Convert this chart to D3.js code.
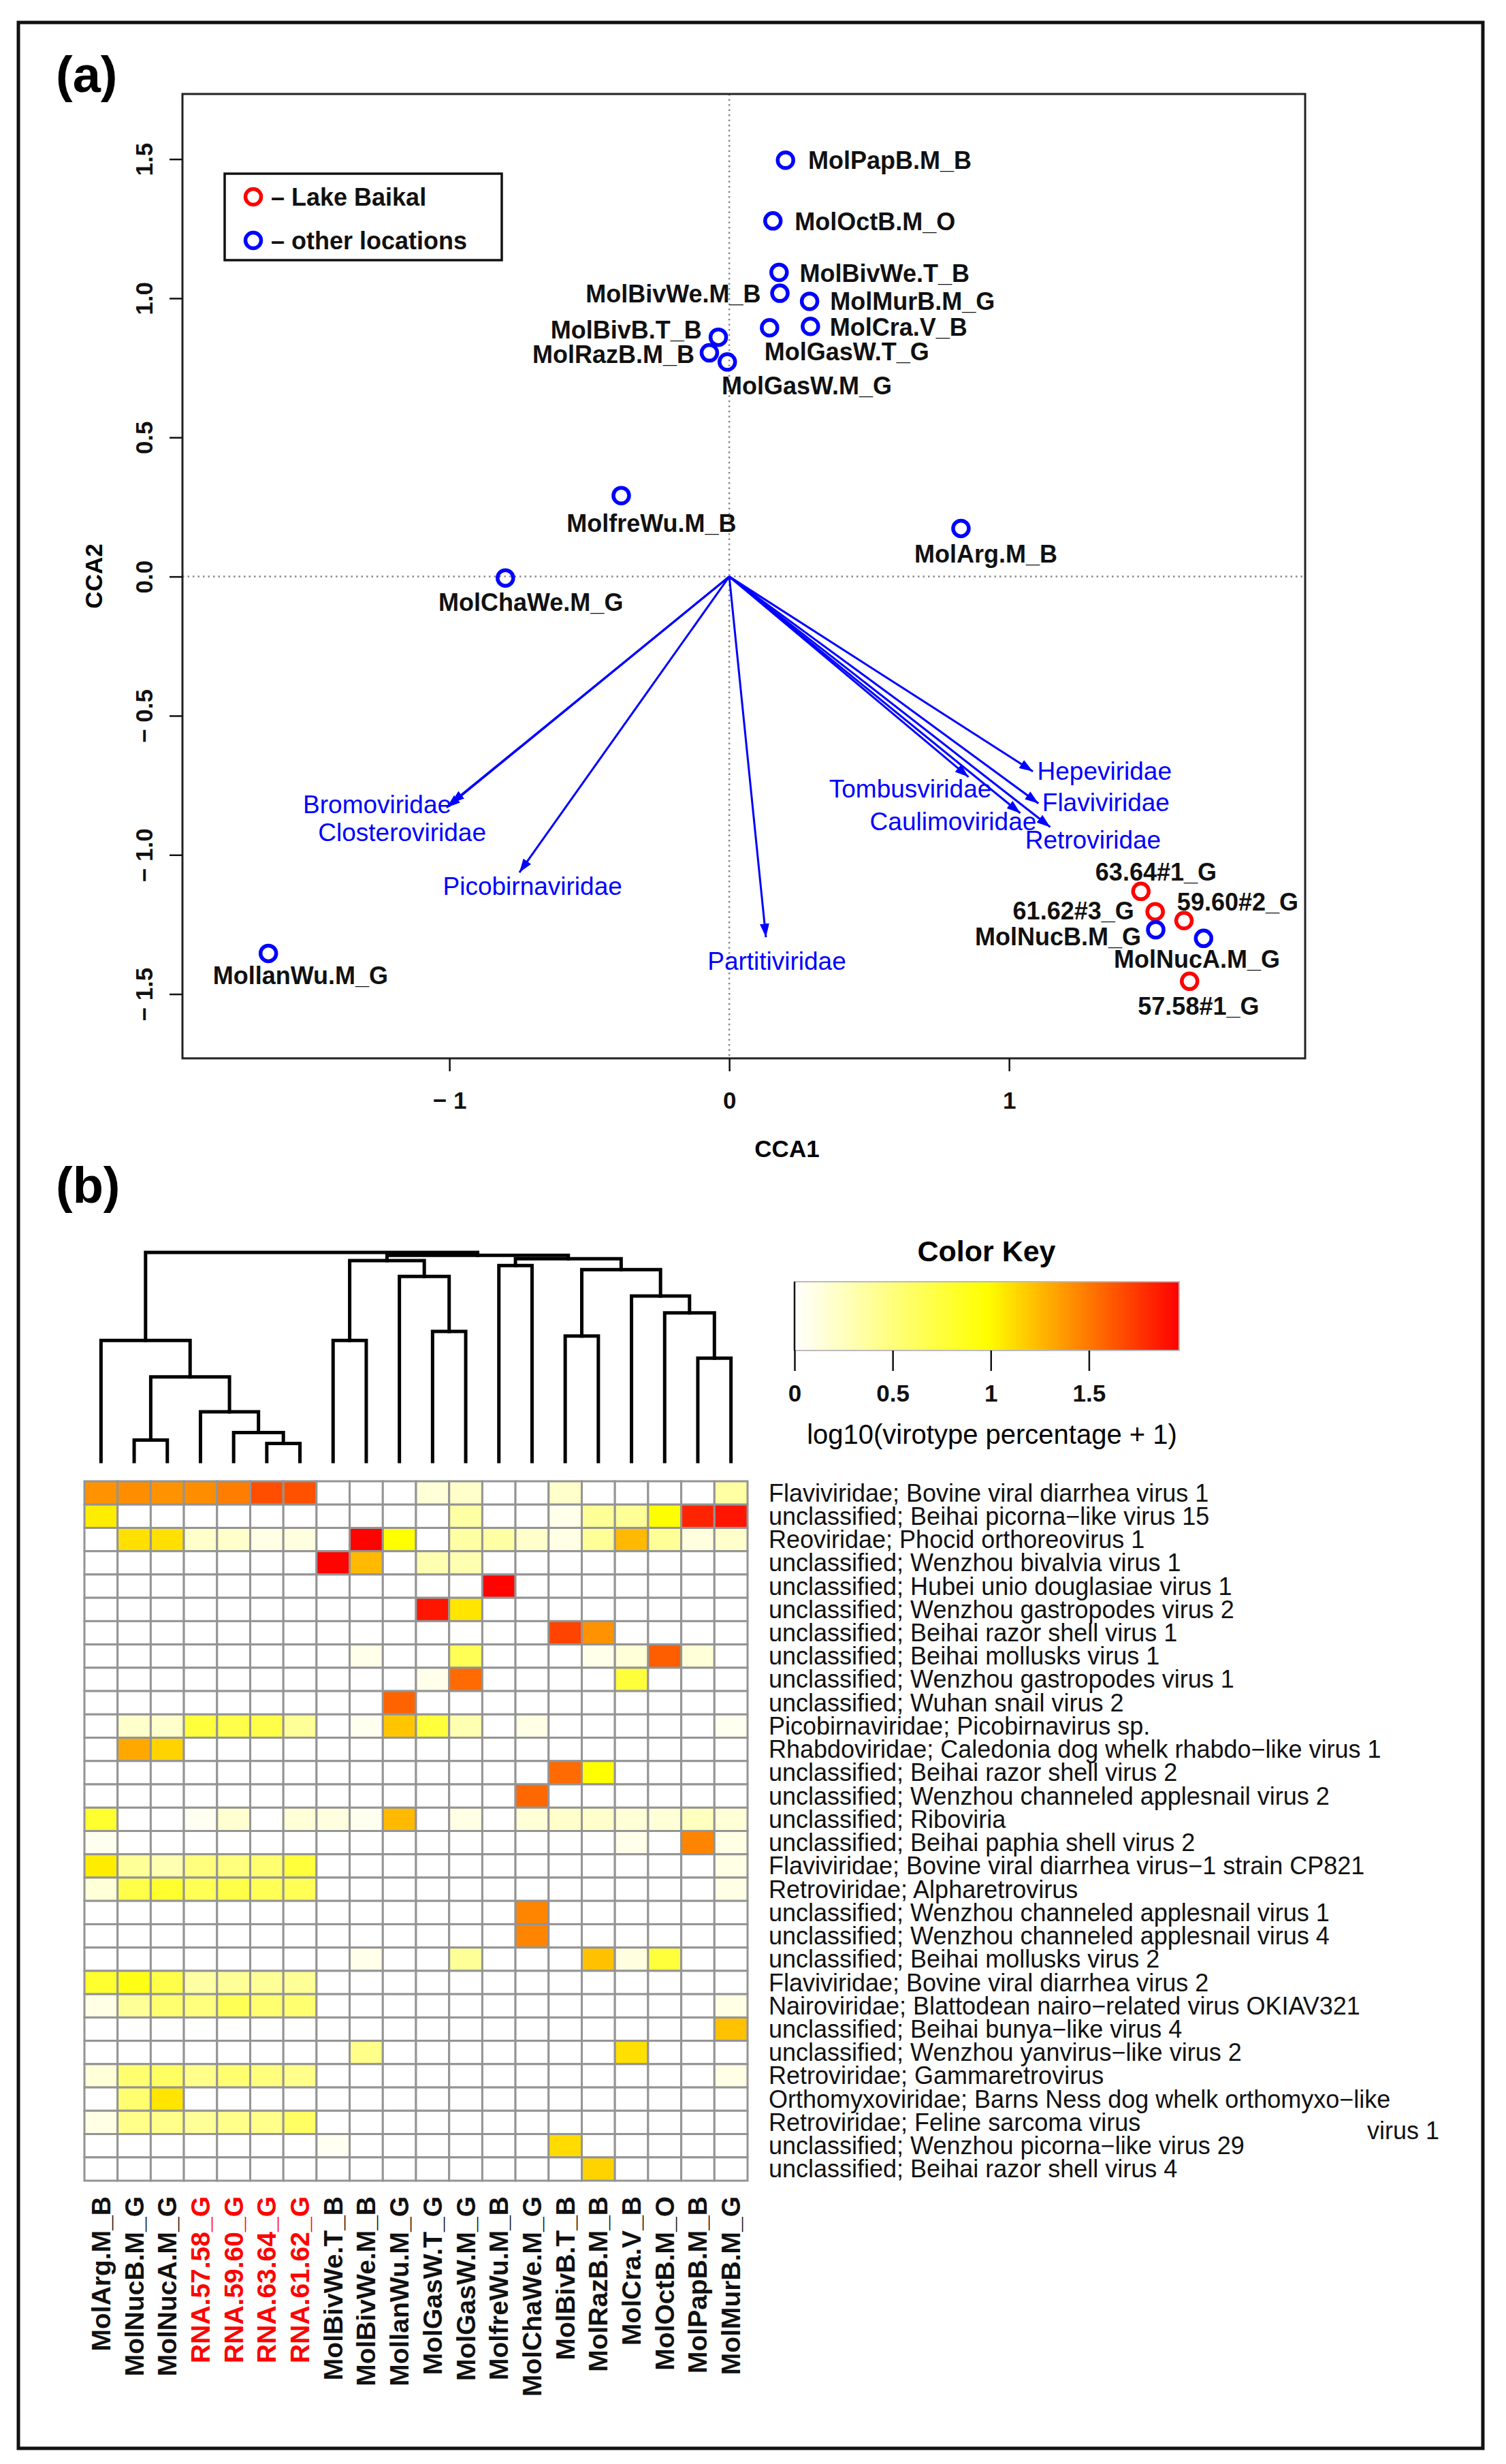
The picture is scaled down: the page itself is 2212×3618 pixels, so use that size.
<!DOCTYPE html>
<html><head><meta charset="utf-8">
<script src="https://cdn.jsdelivr.net/npm/d3@7"></script>
<style>
body{margin:0;background:#fff}
svg{display:block}
text{font-family:"Liberation Sans",Arial,Helvetica,sans-serif}
</style>
</head><body>
<svg id="chart" width="2212" height="3618"></svg>
<script>
// ---------------- DATA: panel (a) CCA biplot ----------------
const siteNames = ["MolPapB.M_B","MolOctB.M_O","MolBivWe.T_B","MolBivWe.M_B","MolMurB.M_G","MolCra.V_B","MolGasW.T_G","MolBivB.T_B","MolRazB.M_B","MolGasW.M_G","MolArg.M_B","MolfreWu.M_B","MolChaWe.M_G","MollanWu.M_G","63.64#1_G","61.62#3_G","59.60#2_G","MolNucB.M_G","MolNucA.M_G","57.58#1_G"];
const siteCCA1 = [0.201,0.156,0.178,0.181,0.287,0.290,0.144,-0.039,-0.071,-0.007,0.828,-0.386,-0.800,-1.647,1.471,1.522,1.625,1.524,1.695,1.645];
const siteCCA2 = [1.496,1.278,1.093,1.018,0.989,0.899,0.894,0.860,0.804,0.771,0.173,0.291,-0.005,-1.354,-1.131,-1.204,-1.236,-1.269,-1.300,-1.454];
const siteGroup = ["other","other","other","other","other","other","other","other","other","other","other","other","other","other","Baikal","Baikal","Baikal","other","other","Baikal"];
// label anchor coordinates (CCA units, as placed in the original biplot)
const siteLabCCA1 = [0.574,0.521,0.555,-0.200,0.655,0.605,0.420,-0.368,-0.414,0.277,0.917,-0.278,-0.709,-1.532,1.525,1.230,1.817,1.175,1.671,1.677];
const siteLabCCA2 = [1.496,1.274,1.089,1.016,0.988,0.896,0.807,0.885,0.798,0.685,0.082,0.190,-0.093,-1.434,-1.062,-1.201,-1.170,-1.294,-1.376,-1.545];

const envNames = ["Bromoviridae","Closteroviridae","Picobirnaviridae","Partitiviridae","Tombusviridae","Caulimoviridae","Hepeviridae","Flaviviridae","Retroviridae"];
const envCCA1 = [-1.010,-0.995,-0.750,0.131,0.855,1.040,1.085,1.105,1.147];
const envCCA2 = [-0.830,-0.815,-1.063,-1.296,-0.720,-0.850,-0.700,-0.815,-0.900];
const envLabCCA1 = [-1.258,-1.169,-0.703,0.170,0.647,0.800,1.341,1.346,1.300];
const envLabCCA2 = [-0.819,-0.919,-1.114,-1.383,-0.762,-0.880,-0.700,-0.812,-0.946];

const legendLabels = ["– Lake Baikal","– other locations"];
const legendGroups = ["Baikal","other"];
const xTicksA = [-1,0,1];
const yTicksA = [-1.5,-1.0,-0.5,0.0,0.5,1.0,1.5];

// ---------------- DATA: panel (b) heatmap ----------------
const colNames = ["MolArg.M_B","MolNucB.M_G","MolNucA.M_G","RNA.57.58_G","RNA.59.60_G","RNA.63.64_G","RNA.61.62_G","MolBivWe.T_B","MolBivWe.M_B","MollanWu.M_G","MolGasW.T_G","MolGasW.M_G","MolfreWu.M_B","MolChaWe.M_G","MolBivB.T_B","MolRazB.M_B","MolCra.V_B","MolOctB.M_O","MolPapB.M_B","MolMurB.M_G"];
const colIsBaikal = [0,0,0,1,1,1,1,0,0,0,0,0,0,0,0,0,0,0,0,0];
const rowNames = [
 "Flaviviridae; Bovine viral diarrhea virus 1",
 "unclassified; Beihai picorna−like virus 15",
 "Reoviridae; Phocid orthoreovirus 1",
 "unclassified; Wenzhou bivalvia virus 1",
 "unclassified; Hubei unio douglasiae virus 1",
 "unclassified; Wenzhou gastropodes virus 2",
 "unclassified; Beihai razor shell virus 1",
 "unclassified; Beihai mollusks virus 1",
 "unclassified; Wenzhou gastropodes virus 1",
 "unclassified; Wuhan snail virus 2",
 "Picobirnaviridae; Picobirnavirus sp.",
 "Rhabdoviridae; Caledonia dog whelk rhabdo−like virus 1",
 "unclassified; Beihai razor shell virus 2",
 "unclassified; Wenzhou channeled applesnail virus 2",
 "unclassified; Riboviria",
 "unclassified; Beihai paphia shell virus 2",
 "Flaviviridae; Bovine viral diarrhea virus−1 strain CP821",
 "Retroviridae; Alpharetrovirus",
 "unclassified; Wenzhou channeled applesnail virus 1",
 "unclassified; Wenzhou channeled applesnail virus 4",
 "unclassified; Beihai mollusks virus 2",
 "Flaviviridae; Bovine viral diarrhea virus 2",
 "Nairoviridae; Blattodean nairo−related virus OKIAV321",
 "unclassified; Beihai bunya−like virus 4",
 "unclassified; Wenzhou yanvirus−like virus 2",
 "Retroviridae; Gammaretrovirus",
 "Orthomyxoviridae; Barns Ness dog whelk orthomyxo−like\nvirus 1",
 "Retroviridae; Feline sarcoma virus",
 "unclassified; Wenzhou picorna−like virus 29",
 "unclassified; Beihai razor shell virus 4"
];
// log10(virotype percentage + 1), rows x columns (column order as colNames)
const heatValues = [
 [1.40,1.42,1.40,1.42,1.48,1.66,1.65,0,0,0,0.15,0.20,0,0,0.20,0,0,0,0,0.35],
 [1.05,0,0,0,0,0,0,0,0,0,0,0.35,0,0,0.08,0.40,0.40,0.98,1.82,1.88],
 [0,1.10,1.10,0.20,0.20,0.10,0.12,0,1.95,0.98,0,0.35,0.35,0.20,0.10,0.40,1.25,0.40,0.12,0.20],
 [0,0,0,0,0,0,0,1.95,1.25,0,0.30,0.30,0,0,0,0,0,0,0,0],
 [0,0,0,0,0,0,0,0,0,0,0,0,1.95,0,0,0,0,0,0,0],
 [0,0,0,0,0,0,0,0,0,0,1.88,1.08,0,0,0,0,0,0,0,0],
 [0,0,0,0,0,0,0,0,0,0,0,0,0,0,1.70,1.40,0,0,0,0],
 [0,0,0,0,0,0,0,0,0.08,0,0,0.65,0,0,0,0.08,0.15,1.60,0.15,0],
 [0,0,0,0,0,0,0,0,0,0,0.08,1.55,0,0,0,0,0.75,0,0,0],
 [0,0,0,0,0,0,0,0,0,1.58,0,0,0,0,0,0,0,0,0,0],
 [0,0.20,0.20,0.75,0.70,0.70,0.40,0,0.06,1.20,0.75,0.30,0,0.10,0,0,0,0,0,0.06],
 [0,1.31,1.15,0,0,0,0,0,0,0,0,0,0,0,0,0,0,0,0,0],
 [0,0,0,0,0,0,0,0,0,0,0,0,0,0,1.55,0.98,0,0,0,0],
 [0,0,0,0,0,0,0,0,0,0,0,0,0,1.56,0,0,0,0,0,0],
 [0.80,0,0,0.05,0.18,0,0.15,0.12,0.06,1.25,0,0.10,0,0.15,0.20,0.20,0.15,0.15,0.25,0.15],
 [0.06,0,0,0,0,0,0,0,0,0,0,0,0,0,0,0,0.08,0,1.45,0.10],
 [1.05,0.40,0.30,0.50,0.50,0.55,0.75,0,0,0,0,0,0,0,0,0,0,0,0,0.10],
 [0.15,0.70,0.80,0.65,0.70,0.65,0.65,0,0,0,0,0,0,0,0,0,0,0,0,0.10],
 [0,0,0,0,0,0,0,0,0,0,0,0,0,1.45,0,0,0,0,0,0],
 [0,0,0,0,0,0,0,0,0,0,0,0,0,1.45,0,0,0,0,0,0],
 [0,0,0,0,0,0,0,0,0.08,0,0,0.40,0,0,0,1.22,0.12,0.75,0,0],
 [0.80,0.90,0.70,0.35,0.40,0.40,0.40,0,0,0,0,0,0,0,0,0,0,0,0,0],
 [0.10,0.40,0.55,0.50,0.65,0.55,0.55,0,0,0,0,0,0,0,0,0,0,0,0,0.10],
 [0,0,0,0,0,0,0,0,0,0,0,0,0,0,0,0,0,0,0,1.22],
 [0,0,0,0,0,0,0,0,0.45,0,0,0,0,0,0,0,1.10,0,0,0],
 [0.15,0.55,0.60,0.45,0.55,0.50,0.45,0,0,0,0,0,0,0,0,0,0,0,0,0.10],
 [0,0.55,1.08,0,0,0,0,0,0,0,0,0,0,0,0,0,0,0,0,0],
 [0.10,0.45,0.45,0.40,0.45,0.45,0.60,0,0,0,0,0,0,0,0,0,0,0,0,0],
 [0,0,0,0,0,0,0,0.05,0,0,0,0,0,0,1.12,0,0,0,0,0],
 [0,0,0,0,0,0,0,0,0,0,0,0,0,0,0,1.15,0,0,0,0]
];
const keyTicks = [0,0.5,1,1.5];
const keyMax = 1.96;
const keyColors = ["#ffffff","#ffff00","#ff0000"];
// column dendrogram: merge heights (arbitrary distance units), leaves = column indices
const L = i => ({leaf:i, h:0});
const dendroTree = {h:926, c:[
  {h:536, c:[L(0), {h:375, c:[{h:95, c:[L(1),L(2)]}, {h:220, c:[L(3), {h:128, c:[L(4), {h:80, c:[L(5),L(6)]}]}]}]}]},
  {h:913, c:[
    {h:890, c:[{h:536, c:[L(7),L(8)]}, {h:820, c:[L(9), {h:576, c:[L(10),L(11)]}]}]},
    {h:898, c:[{h:868, c:[L(12),L(13)]}, {h:850, c:[{h:556, c:[L(14),L(15)]}, {h:733, c:[L(16), {h:658, c:[L(17), {h:458, c:[L(18),L(19)]}]}]}]}]}
  ]}
]};

// ---------------- DRAWING ----------------
const svg = d3.select("#chart");
const FONT = '"Liberation Sans",Arial,sans-serif';
svg.append("rect").attr("width",2212).attr("height",3618).attr("fill","#fff");
// outer frame
svg.append("rect").attr("x",27).attr("y",33).attr("width",2151).attr("height",3562)
  .attr("fill","none").attr("stroke","#111").attr("stroke-width",5);

// panel labels
svg.append("text").attr("x",82).attr("y",135).attr("font-size",74).attr("font-weight","bold").text("(a)");
svg.append("text").attr("x",82).attr("y",1766).attr("font-size",74).attr("font-weight","bold").text("(b)");

// ---- panel (a)
const PA = {l:268, r:1917, t:138, b:1554};
const x = d3.scaleLinear().domain([-1.954, 2.058]).range([PA.l, PA.r]);
const y = d3.scaleLinear().domain([-1.731, 1.734]).range([PA.b, PA.t]);
const ga = svg.append("g");

// zero lines
ga.append("line").attr("x1",x(0)).attr("x2",x(0)).attr("y1",PA.t).attr("y2",PA.b)
  .attr("stroke","#888").attr("stroke-width",2.5).attr("stroke-dasharray","2.5,5");
ga.append("line").attr("x1",PA.l).attr("x2",PA.r).attr("y1",y(0)).attr("y2",y(0))
  .attr("stroke","#888").attr("stroke-width",2.5).attr("stroke-dasharray","2.5,5");

// box
ga.append("rect").attr("x",PA.l).attr("y",PA.t).attr("width",PA.r-PA.l).attr("height",PA.b-PA.t)
  .attr("fill","none").attr("stroke","#222").attr("stroke-width",3);

const fmt = d => d < 0 ? "− " + Math.abs(d).toString() : d.toString();
// axes
const yAxis = d3.axisLeft(y).tickValues(yTicksA).tickSize(19).tickPadding(0)
  .tickFormat(d => d < 0 ? "− " + Math.abs(d).toFixed(1) : d.toFixed(1));
const gy = ga.append("g").attr("transform",`translate(${PA.l},0)`).call(yAxis);
gy.select(".domain").remove();
gy.selectAll(".tick line").attr("stroke","#111").attr("stroke-width",2.5);
gy.selectAll(".tick text").attr("x",null).attr("dy",null)
  .attr("text-anchor","middle").attr("dominant-baseline","central")
  .attr("transform","translate(-57,0) rotate(-90)")
  .attr("font-size",35).attr("font-weight","bold").attr("fill","#111").attr("font-family",FONT);

const xAxis = d3.axisBottom(x).tickValues(xTicksA).tickSize(19).tickPadding(0).tickFormat(fmt);
const gx = ga.append("g").attr("transform",`translate(0,${PA.b})`).call(xAxis);
gx.select(".domain").remove();
gx.selectAll(".tick line").attr("stroke","#111").attr("stroke-width",2.5);
gx.selectAll(".tick text").attr("y",61).attr("dy",null).attr("dominant-baseline","central")
  .attr("font-size",35).attr("font-weight","bold").attr("fill","#111").attr("font-family",FONT);

ga.append("text").attr("x",1156).attr("y",1686).attr("text-anchor","middle").attr("dominant-baseline","central")
  .attr("font-size",35).attr("font-weight","bold").text("CCA1");
ga.append("text").attr("transform",`translate(137,${(PA.t+PA.b)/2}) rotate(-90)`)
  .attr("text-anchor","middle").attr("dominant-baseline","central")
  .attr("font-size",35).attr("font-weight","bold").text("CCA2");

// arrows
const defs = svg.append("defs");
defs.append("marker").attr("id","ah").attr("viewBox","0 0 20 14").attr("refX",20).attr("refY",7)
  .attr("markerWidth",20).attr("markerHeight",14).attr("markerUnits","userSpaceOnUse").attr("orient","auto")
  .append("path").attr("d","M0,0 L20,7 L0,14 Z").attr("fill","#0000ff");
ga.selectAll(".env").data(envNames).join("line").attr("class","env")
  .attr("x1",x(0)).attr("y1",y(0))
  .attr("x2",(d,i)=>x(envCCA1[i])).attr("y2",(d,i)=>y(envCCA2[i]))
  .attr("stroke","#0000ff").attr("stroke-width",3).attr("marker-end","url(#ah)");
ga.selectAll(".envlab").data(envNames).join("text").attr("class","envlab")
  .attr("x",(d,i)=>x(envLabCCA1[i])).attr("y",(d,i)=>y(envLabCCA2[i]))
  .attr("text-anchor","middle").attr("dominant-baseline","central")
  .attr("font-size",37).attr("fill","#0000ff").text(d=>d);

// sites
const grpColor = g => g === "Baikal" ? "#ff0000" : "#0000ff";
ga.selectAll(".site").data(siteNames).join("circle").attr("class","site")
  .attr("cx",(d,i)=>x(siteCCA1[i])).attr("cy",(d,i)=>y(siteCCA2[i])).attr("r",11.5)
  .attr("fill","none").attr("stroke",(d,i)=>grpColor(siteGroup[i])).attr("stroke-width",5.5);
ga.selectAll(".sitelab").data(siteNames).join("text").attr("class","sitelab")
  .attr("x",(d,i)=>x(siteLabCCA1[i])).attr("y",(d,i)=>y(siteLabCCA2[i]))
  .attr("text-anchor","middle").attr("dominant-baseline","central")
  .attr("font-size",36).attr("font-weight","bold").attr("fill","#111").text(d=>d);

// legend
const lg = ga.append("g");
lg.append("rect").attr("x",330).attr("y",255).attr("width",407).attr("height",127)
  .attr("fill","#fff").attr("stroke","#111").attr("stroke-width",3.5);
legendLabels.forEach((t,i)=>{
  const cy = 289 + i*64;
  lg.append("circle").attr("cx",372).attr("cy",cy).attr("r",11.5).attr("fill","none")
    .attr("stroke",grpColor(legendGroups[i])).attr("stroke-width",5.5);
  lg.append("text").attr("x",398).attr("y",cy).attr("dominant-baseline","central")
    .attr("font-size",36).attr("font-weight","bold").attr("fill","#111").text(t);
});

// ---- panel (b) heatmap
const HM = {l:124, r:1098, t:2175, b:3202};
const cx = d3.scaleBand().domain(colNames).range([HM.l, HM.r]);
const cy = d3.scaleBand().domain(rowNames).range([HM.t, HM.b]);
const color = d3.scaleLinear().domain([0, keyMax/2, keyMax]).range(keyColors).clamp(true);
const gb = svg.append("g");
const cells = [];
heatValues.forEach((row,ri)=>row.forEach((v,ci)=>cells.push({r:rowNames[ri], c:colNames[ci], v})));
gb.selectAll(".cell").data(cells).join("rect").attr("class","cell")
  .attr("x",d=>cx(d.c)).attr("y",d=>cy(d.r)).attr("width",cx.bandwidth()).attr("height",cy.bandwidth())
  .attr("fill",d=>color(d.v)).attr("stroke","#949494").attr("stroke-width",3);

// row labels
rowNames.forEach(name=>{
  const parts = name.split("\n");
  const yc = cy(name) + cy.bandwidth()/2;
  gb.append("text").attr("x",HM.r+31).attr("y",yc).attr("dominant-baseline","central")
    .attr("font-size",36).attr("fill","#111").text(parts[0]);
  if (parts.length > 1) {
    gb.append("text").attr("x",2114).attr("y",yc+46).attr("text-anchor","end").attr("dominant-baseline","central")
      .attr("font-size",36).attr("fill","#111").text(parts[1]);
  }
});
// column labels
colNames.forEach((name,i)=>{
  const xc = cx(name) + cx.bandwidth()/2;
  gb.append("text").attr("transform",`translate(${xc},${HM.b+23}) rotate(-90)`)
    .attr("text-anchor","end").attr("dominant-baseline","central")
    .attr("font-size",39).attr("font-weight","bold")
    .attr("fill",colIsBaikal[i] ? "#ff0000" : "#111").text(name);
});

// dendrogram
const root = d3.hierarchy(dendroTree, d => d.c);
const dy = d3.scaleLinear().domain([0, dendroTree.h]).range([2146, 1839]);
root.eachAfter(n=>{
  if (!n.children) n.px = cx(colNames[n.data.leaf]) + cx.bandwidth()/2;
  else n.px = (n.children[0].px + n.children[n.children.length-1].px)/2;
});
const dg = gb.append("g").attr("fill","none").attr("stroke","#000").attr("stroke-width",5).attr("stroke-linecap","square");
root.descendants().filter(n=>n.children).forEach(n=>{
  const a = n.children[0], b = n.children[1];
  dg.append("path").attr("d",
    `M${a.px},${dy(a.data.h)}V${dy(n.data.h)}H${b.px}V${dy(b.data.h)}`);
});

// color key
const KB = {l:1167, r:1732, t:1882, b:1983};
const kx = d3.scaleLinear().domain([0, keyMax]).range([KB.l, KB.r]);
const kg = svg.append("g");
const nb = 120;
const bands = d3.range(nb).map(i => keyMax*i/nb);
kg.selectAll(".kb").data(bands).join("rect").attr("class","kb")
  .attr("x",d=>kx(d)).attr("y",KB.t).attr("width",(KB.r-KB.l)/nb+0.8).attr("height",KB.b-KB.t)
  .attr("fill",d=>color(d + keyMax/nb/2));
kg.append("rect").attr("x",KB.l).attr("y",KB.t).attr("width",KB.r-KB.l).attr("height",KB.b-KB.t)
  .attr("fill","none").attr("stroke","#bbb").attr("stroke-width",2);
kg.append("line").attr("x1",KB.l).attr("x2",KB.l).attr("y1",KB.t).attr("y2",KB.b).attr("stroke","#111").attr("stroke-width",2.5);
const kAxis = d3.axisBottom(kx).tickValues(keyTicks).tickSize(30).tickPadding(20).tickFormat(d=>d.toString());
const gk = kg.append("g").attr("transform",`translate(0,${KB.b})`).call(kAxis);
gk.select(".domain").remove();
gk.selectAll(".tick line").attr("stroke","#111").attr("stroke-width",2.5);
gk.selectAll(".tick text").attr("font-size",35).attr("font-weight","bold").attr("fill","#111").attr("font-family",FONT);
kg.append("text").attr("x",1449).attr("y",1837).attr("text-anchor","middle").attr("dominant-baseline","central")
  .attr("font-size",43).attr("font-weight","bold").text("Color Key");
kg.append("text").attr("x",1457).attr("y",2106).attr("text-anchor","middle").attr("dominant-baseline","central")
  .attr("font-size",40).text("log10(virotype percentage + 1)");
</script>
</body></html>
